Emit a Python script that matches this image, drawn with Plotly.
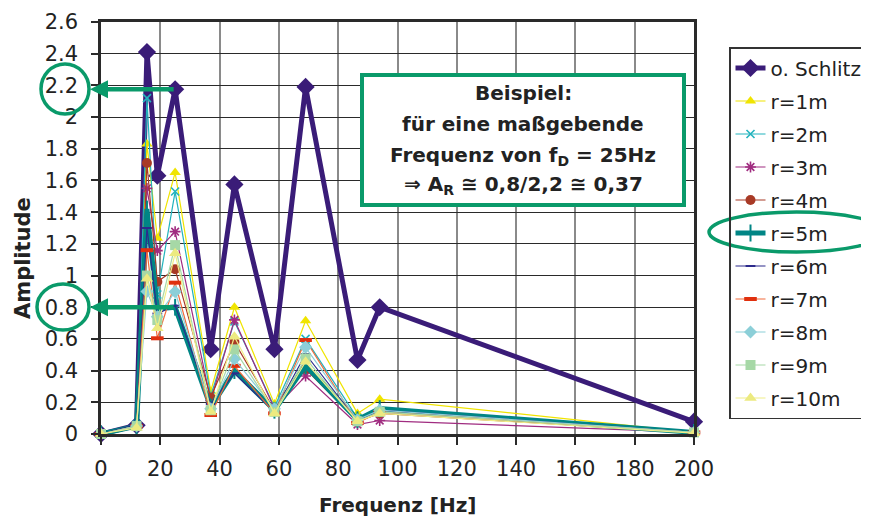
import plotly.graph_objects as go

# ---------------- data ----------------
freq = [0, 12, 15.5, 19, 25, 37, 45, 58.5, 69, 86.5, 94, 200]

schlitz = [0, 0.055, 2.41, 1.63, 2.175, 0.535, 1.575, 0.535, 2.19, 0.467, 0.80, 0.078]
r1 = [0, 0.06, 1.83, 1.235, 1.65, 0.27, 0.80, 0.19, 0.715, 0.13, 0.22, 0.01]
r2 = [0, 0.06, 2.12, 0.88, 1.53, 0.24, 0.71, 0.17, 0.60, 0.10, 0.14, 0.01]
r3 = [0, 0.05, 1.55, 1.157, 1.277, 0.21, 0.72, 0.16, 0.366, 0.06, 0.085, 0.01]
r4 = [0, 0.05, 1.71, 0.961, 1.04, 0.23, 0.58, 0.15, 0.41, 0.08, 0.13, 0.01]
r5 = [0, 0.05, 1.42, 0.79, 0.80, 0.17, 0.40, 0.15, 0.43, 0.09, 0.16, 0.01]
r6 = [0, 0.06, 1.30, 0.76, 0.81, 0.19, 0.383, 0.14, 0.505, 0.08, 0.15, 0.01]
r7 = [0, 0.05, 1.16, 0.604, 0.955, 0.12, 0.43, 0.13, 0.593, 0.07, 0.14, 0.01]
r8 = [0, 0.05, 0.90, 0.74, 0.898, 0.16, 0.473, 0.16, 0.547, 0.09, 0.15, 0.01]
r9 = [0, 0.05, 1.00, 0.719, 1.192, 0.15, 0.534, 0.14, 0.477, 0.08, 0.14, 0.01]
r10 = [0, 0.04, 0.98, 0.667, 1.14, 0.14, 0.614, 0.13, 0.456, 0.08, 0.13, 0.005]

series_names = ["o. Schlitz", "r=1m", "r=2m", "r=3m", "r=4m", "r=5m",
                "r=6m", "r=7m", "r=8m", "r=9m", "r=10m"]
series_values = [schlitz, r1, r2, r3, r4, r5, r6, r7, r8, r9, r10]

x_ticks = [0, 20, 40, 60, 80, 100, 120, 140, 160, 180, 200]
y_ticks = [0, 0.2, 0.4, 0.6, 0.8, 1, 1.2, 1.4, 1.6, 1.8, 2, 2.2, 2.4, 2.6]
y_tick_text = ["0", "0.2", "0.4", "0.6", "0.8", "1", "1.2", "1.4", "1.6",
               "1.8", "2", "2.2", "2.4", "2.6"]

# ---------------- styles ----------------
styles = [
    dict(lc="#3a1c78", lw=5, sym="diamond", ms=14, mc="#3a1c78", mlw=0),
    dict(lc="#f0e400", lw=1.2, sym="triangle-up", ms=10, mc="#f0e400", mlw=0),
    dict(lc="#22b3bd", lw=1.2, sym="x-thin", ms=8, mc="#22b3bd", mlw=1.6),
    dict(lc="#a02c80", lw=1.2, sym="asterisk", ms=9, mc="#a02c80", mlw=1.6),
    dict(lc="#a83a26", lw=1.2, sym="circle", ms=10, mc="#a83a26", mlw=0),
    dict(lc="#008585", lw=5, sym="line-ns", ms=12, mc="#008585", mlw=2),
    dict(lc="#2c2a8c", lw=1.2, sym="line-ew", ms=7, mc="#2c2a8c", mlw=2),
    dict(lc="#f26a3a", lw=1.2, sym="line-ew", ms=9, mc="#e0300e", mlw=4),
    dict(lc="#8ccfd8", lw=1.2, sym="diamond", ms=10, mc="#8ccfd8", mlw=0),
    dict(lc="#a6d8a6", lw=1.2, sym="square", ms=10, mc="#a6d8a6", mlw=0),
    dict(lc="#f0ee88", lw=1.2, sym="triangle-up", ms=11, mc="#ecea80", mlw=0),
]

FONT = "DejaVu Sans, Liberation Sans, Arial, sans-serif"
GREEN = "#0a9a6a"
TXT = "#222222"

fig = go.Figure()
for i, (name, vals, st) in enumerate(zip(series_names, series_values, styles)):
    fig.add_trace(go.Scatter(
        x=freq, y=vals, name=name, mode="lines+markers",
        legendgroup=f"g{i}",
        line=dict(color=st["lc"], width=st["lw"]),
        marker=dict(symbol=st["sym"], size=st["ms"], color=st["mc"],
                    line=dict(color=st["mc"], width=st["mlw"])),
        cliponaxis=False,
    ))

# page has an 8px body margin: figure occupies screen pixels 8..869 / 8..522
OFF = 8
SW, SH = 869, 522
W, H = SW - OFF, SH - OFF
# plot area in screen pixels: x 101..694, y 22..434
L, T = 101 - OFF, 22 - OFF
R, B = SW - 694, SH - 434
pw = W - L - R
ph = H - T - B

def px(xpix):
    """screen x pixel -> paper coordinate"""
    return (xpix - OFF - L) / pw

def py(ypix):
    """screen y pixel -> paper coordinate"""
    return (H - B - (ypix - OFF)) / ph

fig.update_layout(
    width=W, height=H,
    margin=dict(l=L, r=R, t=T, b=B, autoexpand=False),
    paper_bgcolor="white", plot_bgcolor="white",
    font=dict(family=FONT, size=21, color=TXT),
    showlegend=True,
    legend=dict(
        x=px(729), y=py(47), xanchor="left", yanchor="top",
        bgcolor="rgba(0,0,0,0)", bordercolor="#333333", borderwidth=1.5,
        font=dict(family=FONT, size=20, color=TXT),
        traceorder="grouped", tracegroupgap=4,
    ),
    xaxis=dict(
        range=[0, 200], tickvals=x_ticks, ticktext=[str(v) for v in x_ticks],
        showgrid=True, gridcolor="#8a8a8a", gridwidth=2,
        showline=True, linecolor="#2a2a2a", linewidth=2.5, mirror=True,
        ticks="outside", ticklen=8, tickcolor="#2a2a2a", tickwidth=1.5,
        ticklabelstandoff=6, zeroline=False,
        tickfont=dict(family=FONT, size=21, color=TXT),
    ),
    yaxis=dict(
        range=[0, 2.6], tickvals=y_ticks, ticktext=y_tick_text,
        showgrid=True, gridcolor="#2a2a2a", gridwidth=1.3,
        showline=True, linecolor="#2a2a2a", linewidth=2.5, mirror=True,
        ticks="outside", ticklen=7, tickcolor="#2a2a2a", tickwidth=1.5,
        ticklabelstandoff=9, zeroline=False,
        tickfont=dict(family=FONT, size=21, color=TXT),
    ),
)

# axis titles
fig.add_annotation(text="<b>Amplitude</b>", xref="paper", yref="paper",
                   x=px(23), y=py(258), xanchor="center", yanchor="middle",
                   textangle=-90, showarrow=False,
                   font=dict(family=FONT, size=21, color=TXT))
fig.add_annotation(text="<b>Frequenz [Hz]</b>", xref="paper", yref="paper",
                   x=px(397), y=py(505), xanchor="center", yanchor="middle",
                   showarrow=False,
                   font=dict(family=FONT, size=20, color=TXT))

# example box
fig.add_shape(type="rect", xref="paper", yref="paper",
              x0=px(362), x1=px(684), y0=py(205), y1=py(75),
              line=dict(color=GREEN, width=4), fillcolor="white", layer="above")
box_lines = [
    ("<b>Beispiel:</b>", 93),
    ("<b>für eine maßgebende</b>", 124),
    ("<b>Frequenz von f<sub>D</sub> = 25Hz</b>", 156),
    ("<b>⇒ A<sub>R</sub> ≅ 0,8/2,2 ≅ 0,37</b>", 185),
]
for txt, ypix in box_lines:
    fig.add_annotation(text=txt, xref="paper", yref="paper",
                       x=px(523), y=py(ypix), xanchor="center", yanchor="middle",
                       showarrow=False,
                       font=dict(family=FONT, size=20, color=TXT))

# arrows from the 25 Hz points to the y axis
f25 = freq[4]
for yv in (schlitz[4], r5[4]):
    fig.add_annotation(x=-3.7, y=yv, xref="x", yref="y", text="",
                       showarrow=True, ax=f25, ay=yv, axref="x", ayref="y",
                       arrowhead=2, arrowsize=0.8, arrowwidth=4.5,
                       arrowcolor=GREEN)

# circles around tick labels and legend entry
fig.add_shape(type="circle", xref="paper", yref="paper",
              x0=px(41), x1=px(89), y0=py(114), y1=py(64),
              line=dict(color=GREEN, width=3.5), layer="above")
fig.add_shape(type="circle", xref="paper", yref="paper",
              x0=px(37), x1=px(89), y0=py(330), y1=py(284),
              line=dict(color=GREEN, width=3.5), layer="above")
fig.add_shape(type="circle", xref="paper", yref="paper",
              x0=px(709), x1=px(884), y0=py(252), y1=py(212),
              line=dict(color=GREEN, width=3.5), layer="above")

fig.write_html("out.html")
